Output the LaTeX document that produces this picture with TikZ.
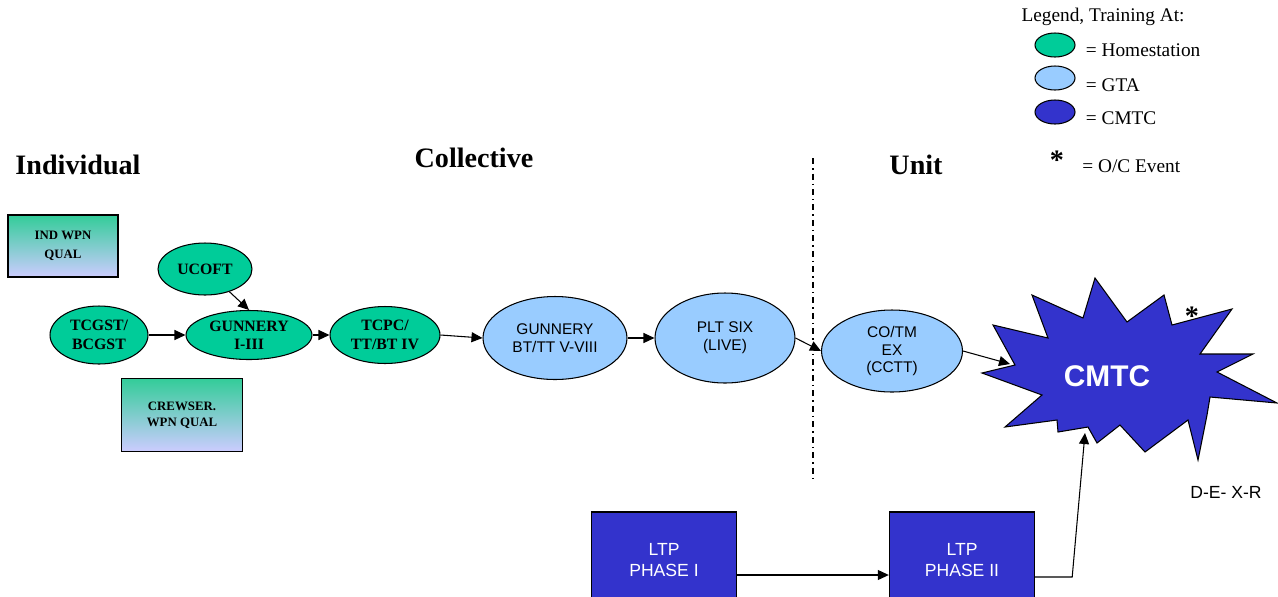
\documentclass[tikz,border=0pt]{standalone}
\usepackage{fontspec}
\setmainfont{Liberation Serif}
\setsansfont{Liberation Sans}
\usepackage{xcolor}
\usepackage{tikz}
\usetikzlibrary{shapes.geometric, arrows.meta, positioning}
\definecolor{homegreen}{RGB}{0,204,153}
\definecolor{gtablue}{RGB}{153,204,255}
\definecolor{cmtcblue}{RGB}{51,51,204}
\definecolor{qualtop}{RGB}{51,204,153}
\definecolor{qualbot}{RGB}{204,204,255}
\tikzset{
    homestation/.style={
        ellipse,
        draw=black,
        semithick,
        inner sep=0pt,
        fill=homegreen,
        align=center,
        font=\fontsize{9}{10.5}\selectfont\bfseries
    },
    gta/.style={
        ellipse,
        draw=black,
        semithick,
        inner sep=0pt,
        fill=gtablue,
        align=center,
        font=\sffamily\fontsize{8.8}{10.2}\selectfont
    },
    qual/.style={
        rectangle,
        draw=black,
        thick,
        top color=qualtop,
        bottom color=qualbot,
        align=center,
        font=\fontsize{7.3}{9}\selectfont\bfseries
    },
    phase/.style={
        rectangle,
        draw=black,
        thick,
        fill=cmtcblue,
        text=white,
        minimum width=2.9cm,
        minimum height=1.92cm,
        align=center,
        font=\sffamily\fontsize{10}{12}\selectfont
    },
    legendkey/.style={
        ellipse,
        draw=black,
        semithick,
        minimum width=0.8cm,
        minimum height=0.48cm
    },
    legendtext/.style={
        font=\fontsize{11}{13}\selectfont,
        inner sep=0pt
    },
    heading/.style={
        font=\fontsize{16}{18}\selectfont\bfseries
    },
    wire/.style={
        draw=black,
        semithick,
        -{Triangle[length=0.22cm,width=0.2cm]}
    }
}
\begin{document}
\begin{tikzpicture}[x=0.02cm, y=-0.02cm]
\useasboundingbox (0,0) rectangle (1278,596);

% Stage headings
\node[heading] (hind) at (78,165) {Individual};
\node[heading] (hcol) at (474,158) {Collective};
\node[heading] (hunit) at (916,165) {Unit};

% Divider between collective and unit
\draw[semithick, dash pattern=on 0.12cm off 0.08cm on 0.03cm off 0.08cm] (813,158) -- (813,480);

% Legend
\node[legendtext] (ltitle) at (1103,17) {Legend, Training At:};
\node[legendkey, fill=homegreen] (lhome) at (1055,45) {};
\node[legendkey, fill=gtablue] (lgta) at (1055,78) {};
\node[legendkey, fill=cmtcblue] (lcmtc) at (1055,112) {};
\node[legendtext, right=0.2cm of lhome, yshift=-0.1cm] {= Homestation};
\node[legendtext, right=0.2cm of lgta, yshift=-0.14cm] {= GTA};
\node[legendtext, right=0.2cm of lcmtc, yshift=-0.12cm] {= CMTC};
\node[font=\fontsize{16}{16}\selectfont\bfseries] (lstar) at (1057,160) {*};
\node[legendtext, anchor=west] (loc) at (1082,166) {= O/C Event};

% Individual training
\node[qual, minimum width=2.2cm, minimum height=1.24cm] (indq) at (63,246) {IND WPN\\[2pt]QUAL};
\node[qual, minimum width=2.42cm, minimum height=1.46cm] (crewq) at (182,415) {CREWSER.\\WPN QUAL};
\node[homestation, minimum width=1.88cm, minimum height=1.04cm] (ucoft) at (205,269) {UCOFT};
\node[homestation, minimum width=1.96cm, minimum height=1.16cm] (tcgst) at (99,335) {TCGST/\\BCGST};
\node[homestation, minimum width=2.52cm, minimum height=0.98cm] (gun13) at (249,335) {GUNNERY\\I-III};
\node[homestation, minimum width=2.2cm, minimum height=1.14cm] (tcpc) at (385,335) {TCPC/\\TT/BT IV};

\draw[wire] (tcgst) -- (gun13);
\draw[wire] (ucoft) -- (gun13.north);
\draw[wire] (gun13) -- (tcpc);

% Collective training
\node[gta, minimum width=2.88cm, minimum height=1.66cm] (gunbt) at (555,338) {GUNNERY\\BT/TT V-VIII};
\node[gta, minimum width=2.8cm, minimum height=1.8cm] (pltsix) at (725,338) {PLT SIX\\(LIVE)};
\node[gta, minimum width=2.82cm, minimum height=1.64cm] (coteam) at (892,351) {CO/TM\\EX\\(CCTT)};

\draw[wire] (tcpc.east) -- (gunbt.west);
\draw[wire] (gunbt) -- (pltsix);
\draw[wire] (pltsix.east) -- (coteam.west);

% CMTC burst
\draw[fill=cmtcblue, draw=black, semithick]
    (1095,278) -- (1127,322) -- (1164,295) -- (1172,325) -- (1232,309)
    -- (1200,354) -- (1253,354) -- (1217,372) -- (1277,403) -- (1210,397)
    -- (1207,415) -- (1198,460) -- (1188,420) -- (1145,452) -- (1120,425)
    -- (1097,443) -- (1088,427) -- (1058,432) -- (1057,420) -- (1005,427)
    -- (1042,395) -- (982,373) -- (1015,365) -- (993,325) -- (1048,338)
    -- (1032,295) -- (1083,318) -- cycle;
\node[text=white, font=\sffamily\fontsize{17}{20}\selectfont\bfseries] (cmtc) at (1107,376) {CMTC};
\node[font=\fontsize{16}{16}\selectfont\bfseries] (ocstar) at (1192,316) {*};
\node[font=\sffamily\fontsize{10}{12}\selectfont] (dexr) at (1226,492) {D-E- X-R};
\coordinate (cmtcW) at (1010,364);
\coordinate (cmtcS) at (1085,433);

\draw[wire] (coteam.east) -- (cmtcW);

% Leader training
\node[phase] (ltp1) at (664,560) {LTP\\PHASE I};
\node[phase] (ltp2) at (962,560) {LTP\\PHASE II};

\draw[wire] ([yshift=-0.3cm]ltp1.east) -- ([yshift=-0.3cm]ltp2.west);
\draw[wire] ([yshift=-0.34cm]ltp2.east) -- ++(37,0) -- (cmtcS);

\end{tikzpicture}
\end{document}
